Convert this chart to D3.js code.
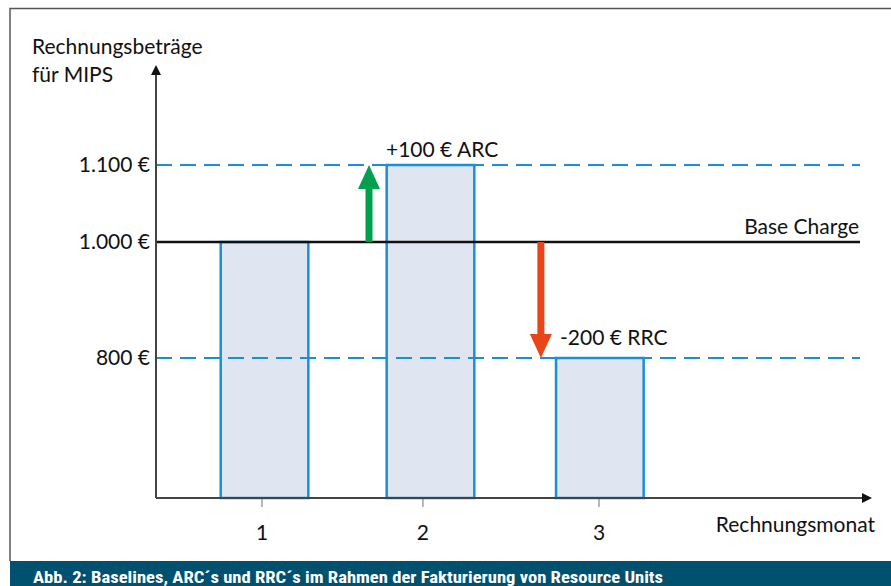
<!DOCTYPE html>
<html>
<head>
<meta charset="utf-8">
<script src="https://cdn.jsdelivr.net/npm/d3@7"></script>
<style>
  html,body{margin:0;padding:0;background:#fff;}
  svg{display:block;}
</style>
</head>
<body>
<svg id="chart" width="891" height="586"></svg>
<script>
// data
var months=['1','2','3'];
var monthPos=[1,1.955,3];
var amounts=[1000,1100,800];
var barCenters=[1.015,2.0,3.005];
var levelValues=[1100,1000,800];
var levelLabels=['1.100 €','1.000 €','800 €'];
var baseCharge=1000;
var arcFrom=1000, arcTo=1100, arcPos=1.635;
var rrcFrom=1000, rrcTo=800, rrcPos=2.655;

var FONT='Lato, "Open Sans", sans-serif';
var FS='21px';
var BLUE='#1b8fd5';

var svg=d3.select('#chart');

// piecewise (schematic) y scale
var y=d3.scaleLinear().domain([0,800,1000,1100]).range([498,358,242,165]);
var x=d3.scaleLinear().domain([1,3]).range([262,599]);
var x0=156, xEnd=873, yTop=64, lineEnd=860;
var barW=x(1.52)-x(1);

// frame
svg.append('path').attr('d','M10,561V8.5H891').attr('fill','none').attr('stroke','#555').attr('stroke-width',1.5);

// caption bar
svg.append('rect').attr('x',10).attr('y',561).attr('width',881).attr('height',25).attr('fill','#00506f');
svg.append('text').attr('x',33).attr('y',583).attr('fill','#fff')
  .attr('font-family','"Liberation Sans Narrow", "Roboto Condensed", Roboto, sans-serif')
  .attr('font-weight','700').attr('font-size','17px')
  .attr('textLength',630).attr('lengthAdjust','spacingAndGlyphs')
  .text('Abb. 2: Baselines, ARC´s und RRC´s im Rahmen der Fakturierung von Resource Units');

var defs=svg.append('defs');
defs.append('marker').attr('id','axArrow').attr('viewBox','0 0 10 10').attr('refX',5).attr('refY',5)
  .attr('markerWidth',5).attr('markerHeight',5).attr('orient','auto').attr('markerUnits','strokeWidth')
  .append('path').attr('d','M0,0L10,5L0,10Z').attr('fill','#111');

// bars
svg.selectAll('rect.bar').data(amounts).enter().append('rect').attr('class','bar')
  .attr('x',function(d,i){return x(barCenters[i])-barW/2;})
  .attr('y',function(d){return y(d);})
  .attr('width',barW)
  .attr('height',function(d){return y(0)-y(d);})
  .attr('fill','#dfe6f1').attr('stroke',BLUE).attr('stroke-width',2.5);

// dashed levels
[1100,800].forEach(function(v){
  svg.append('line').attr('x1',x0).attr('x2',lineEnd).attr('y1',y(v)).attr('y2',y(v))
    .attr('stroke',BLUE).attr('stroke-width',2).attr('stroke-dasharray','16,8');
});
// base charge
svg.append('line').attr('x1',x0).attr('x2',lineEnd).attr('y1',y(baseCharge)).attr('y2',y(baseCharge))
  .attr('stroke','#111').attr('stroke-width',2.5);

// axes
svg.append('line').attr('x1',x0).attr('x2',x0).attr('y1',y(0)).attr('y2',yTop+6)
  .attr('stroke','#444').attr('stroke-width',2).attr('marker-end','url(#axArrow)');
svg.append('line').attr('x1',x0).attr('x2',xEnd-6).attr('y1',y(0)).attr('y2',y(0))
  .attr('stroke','#444').attr('stroke-width',2).attr('marker-end','url(#axArrow)');

// x ticks + labels
monthPos.forEach(function(m,i){
  svg.append('line').attr('x1',x(m)).attr('x2',x(m)).attr('y1',y(0)+1).attr('y2',y(0)+9)
    .attr('stroke','#888').attr('stroke-width',1.2);
  svg.append('text').attr('x',x(m)).attr('y',540).attr('text-anchor','middle')
    .attr('font-family',FONT).attr('font-size',FS).attr('fill','#111').text(months[i]);
});

// y labels
levelValues.forEach(function(v,i){
  svg.append('text').attr('x',150).attr('y',y(v)+7).attr('text-anchor','end')
    .attr('font-family',FONT).attr('font-size',FS).attr('fill','#111').text(levelLabels[i]);
});

// axis titles
svg.append('text').attr('x',32).attr('y',54).attr('font-family',FONT).attr('font-size',FS).attr('fill','#111').text('Rechnungsbeträge');
svg.append('text').attr('x',32).attr('y',82).attr('font-family',FONT).attr('font-size',FS).attr('fill','#111').text('für MIPS');
svg.append('text').attr('x',875).attr('y',532).attr('text-anchor','end').attr('font-family',FONT).attr('font-size',FS).attr('fill','#111').text('Rechnungsmonat');

// annotations
svg.append('text').attr('x',386).attr('y',157).attr('font-family',FONT).attr('font-size',FS).attr('fill','#111').text('+100 € ARC');
svg.append('text').attr('x',859).attr('y',234).attr('text-anchor','end').attr('font-family',FONT).attr('font-size',FS).attr('fill','#111').text('Base Charge');
svg.append('text').attr('x',560).attr('y',345).attr('font-family',FONT).attr('font-size',FS).attr('fill','#111').text('-200 € RRC');

// block arrows
function blockArrow(px,fromV,toV,color){
  var cx=x(px), ys=y(fromV), ye=y(toV);
  var dir=ye<ys?-1:1, head=24, hw=11, sw=3.5;
  var yh=ye-dir*head;
  var p=d3.path();
  p.moveTo(cx-sw,ys);p.lineTo(cx-sw,yh);p.lineTo(cx-hw,yh);p.lineTo(cx,ye);
  p.lineTo(cx+hw,yh);p.lineTo(cx+sw,yh);p.lineTo(cx+sw,ys);p.closePath();
  svg.append('path').attr('d',p.toString()).attr('fill',color);
}
blockArrow(arcPos,arcFrom,arcTo,'#00a04f');
blockArrow(rrcPos,rrcFrom,rrcTo,'#e84518');
</script>
</body>
</html>
